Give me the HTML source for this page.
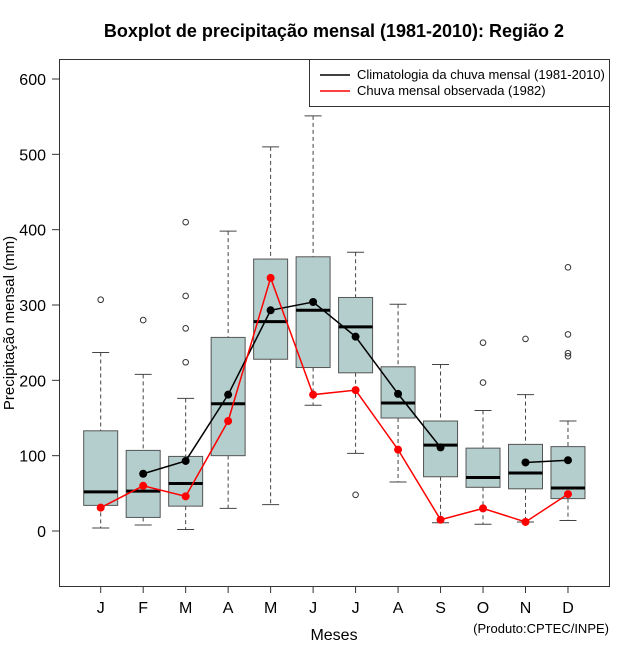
<!DOCTYPE html>
<html><head><meta charset="utf-8"><style>
body{margin:0;background:#fff;}
svg text{font-family:"Liberation Sans",sans-serif;fill:#000;}
</style></head><body>
<svg id="chart" width="640" height="660" xmlns="http://www.w3.org/2000/svg">
<rect width="640" height="660" fill="#fff"/>
<text x="334" y="37" text-anchor="middle" font-size="18" font-weight="bold">Boxplot de precipitação mensal (1981-2010): Região 2</text>
<g id="plot"></g>
<rect x="59.5" y="59.5" width="550" height="527" fill="none" stroke="#333" stroke-width="1"/>
<g>
<rect x="309.5" y="59.5" width="300" height="47" fill="#fff" stroke="#333"/>
<line x1="320" y1="75" x2="350" y2="75" stroke="#000" stroke-width="1.5"/>
<text x="357" y="79" font-size="13">Climatologia da chuva mensal (1981-2010)</text>
<line x1="320" y1="91" x2="350" y2="91" stroke="#f00" stroke-width="1.5"/>
<text x="357" y="95" font-size="13">Chuva mensal observada (1982)</text>
</g>
<text transform="translate(14,323) rotate(-90)" text-anchor="middle" font-size="15">Precipitação mensal (mm)</text>
<text x="334" y="640" text-anchor="middle" font-size="16">Meses</text>
<text x="609" y="633" text-anchor="end" font-size="13">(Produto:CPTEC/INPE)</text>
</svg>
<script>
const months = ["J","F","M","A","M","J","J","A","S","O","N","D"];
const whiskerLow = [4,8,2,30,35,167,103,65,11,9,12,14];
const q1 = [34,18,33,100,228,217,210,150,72,58,56,43];
const median = [52,53,63,169,278,293,271,170,114,71,77,57];
const q3 = [133,107,99,257,361,364,310,218,146,110,115,112];
const whiskerHigh = [237,208,176,398,510,551,370,301,221,160,181,146];
const outliers = [[307],[280],[410,312,269,224],[],[],[],[48],[],[],[250,197],[255],[350,261,236,232]];
const climatology = [null,76,93,181,293,304,258,182,111,null,91,94];
const observed = [31,60,46,146,336,181,187,108,15,30,12,49];
const yTicks = [0,100,200,300,400,500,600];

const NS="http://www.w3.org/2000/svg";
const g=document.getElementById('plot');
const xs=i=>100.7+i*42.48;
const ys=v=>531-v*0.7533;
function mk(t,a){const e=document.createElementNS(NS,t);for(const k in a)e.setAttribute(k,a[k]);g.appendChild(e);return e;}

yTicks.forEach(v=>{
  const l=mk('line',{x1:52,x2:59.5,y1:ys(v),y2:ys(v),stroke:'#333'});
  
  
  const t=mk('text',{x:46,y:ys(v)+6,'text-anchor':'end','font-size':16});
  t.textContent=v;
  
  
});
months.forEach((m,i)=>{
  const x=xs(i);
  const tk=mk('line',{x1:x,x2:x,y1:586.5,y2:593,stroke:'#333'});
  
  
  const t=mk('text',{x:x,y:613,'text-anchor':'middle','font-size':16});
  t.textContent=m;
  
  
  const bg=document.createElementNS(NS,'g');g.appendChild(bg);
  
  
  const add=(t,a)=>{const e=document.createElementNS(NS,t);for(const k in a)e.setAttribute(k,a[k]);bg.appendChild(e);return e;};
  add('line',{x1:x,x2:x,y1:ys(whiskerHigh[i]),y2:ys(q3[i]),stroke:'#444','stroke-dasharray':'4,3'});
  add('line',{x1:x,x2:x,y1:ys(q1[i]),y2:ys(whiskerLow[i]),stroke:'#444','stroke-dasharray':'4,3'});
  add('line',{x1:x-8.5,x2:x+8.5,y1:ys(whiskerHigh[i]),y2:ys(whiskerHigh[i]),stroke:'#444'});
  add('line',{x1:x-8.5,x2:x+8.5,y1:ys(whiskerLow[i]),y2:ys(whiskerLow[i]),stroke:'#444'});
  add('rect',{x:x-17,y:ys(q3[i]),width:34,height:ys(q1[i])-ys(q3[i]),fill:'#b4cecd',stroke:'#555'});
  add('line',{x1:x-17,x2:x+17,y1:ys(median[i]),y2:ys(median[i]),stroke:'#000','stroke-width':3});
  outliers[i].forEach(o=>add('circle',{cx:x,cy:ys(o),r:2.8,fill:'none',stroke:'#333'}));
});
function series(vals,color,name){
  let d='',pen=false;
  vals.forEach((v,i)=>{if(v==null){pen=false;return;}d+=(pen?'L':'M')+xs(i)+','+ys(v);pen=true;});
  const p=mk('path',{d:d,fill:'none',stroke:color,'stroke-width':1.5});
  
  
  vals.forEach((v,i)=>{if(v==null)return;
    const c=mk('circle',{cx:xs(i),cy:ys(v),r:4,fill:color});
    
    
  });
}
series(climatology,'#000','climatology');
series(observed,'#f00','observed');
</script>
</body></html>
